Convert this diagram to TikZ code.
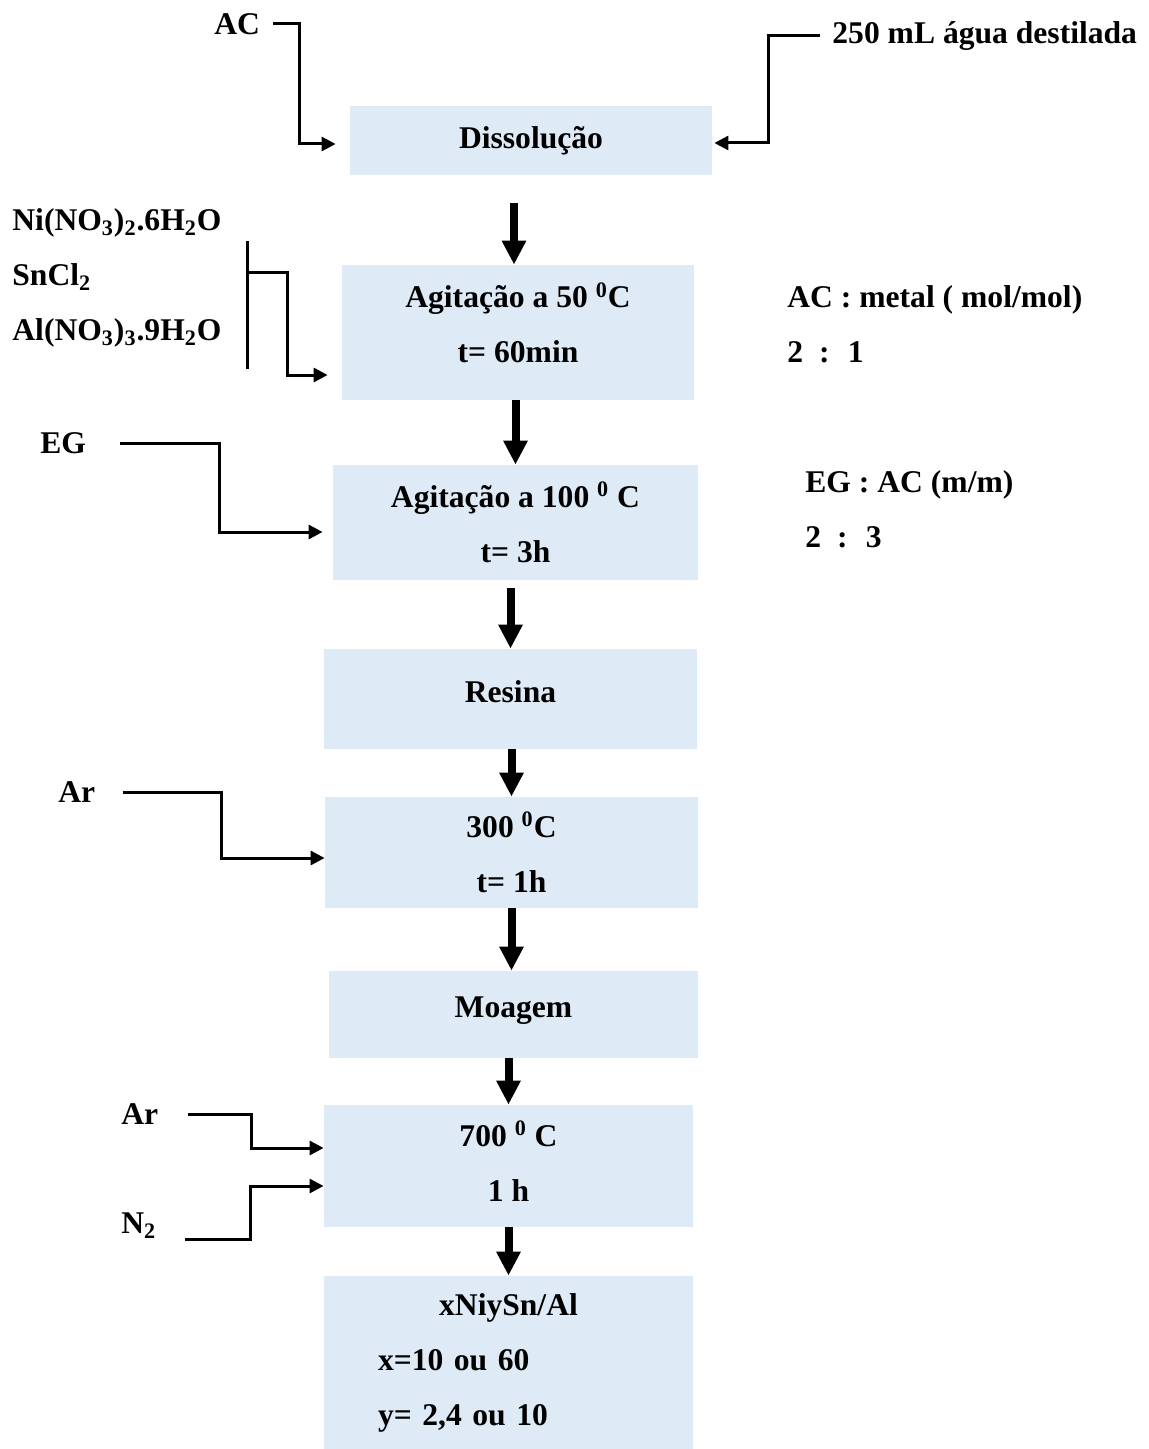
\documentclass[tikz,border=0pt]{standalone}
\usepackage{fontspec}
\setmainfont{Liberation Serif}
\usepackage{tikz}
\usetikzlibrary{arrows.meta, positioning}
\definecolor{boxblue}{RGB}{222,234,246}
\tikzstyle{stage} = [rectangle, fill=boxblue, align=center, inner sep=0pt, font=\fontsize{15.8}{27.5}\selectfont\bfseries]
\tikzstyle{lbl} = [inner sep=0pt, align=left, font=\fontsize{15.8}{27.5}\selectfont\bfseries]
\tikzstyle{line} = [draw, line width=1.5pt]
\tikzstyle{feed} = [draw, line width=1.5pt, -{Triangle[length=7pt, width=7pt]}]
\tikzstyle{flow} = [draw, line width=4pt, -{Triangle[length=12pt, width=11.5pt]}]

\begin{document}
\begin{tikzpicture}[x=0.5pt, y=-0.5pt]
			\useasboundingbox (0,0) rectangle (1149,1449);

			\node [stage, minimum width=181pt, minimum height=34.5pt] (diss) at (531,140.5) {Dissolução};
			\node [stage, minimum width=176pt, minimum height=67.5pt, text depth=10pt] (ag50) at (518,332.5) {Agitação a 50 \textsuperscript{0}C\\t= 60min};
			\node [stage, minimum width=182.5pt, minimum height=57.5pt] (ag100) at (515.5,522.5) {Agitação a 100 \textsuperscript{0} C\\t= 3h};
			\node [stage, minimum width=186.5pt, minimum height=50pt, text depth=7pt] (resina) at (510.5,699) {Resina};
			\node [stage, minimum width=186.5pt, minimum height=55.5pt] (calc300) at (511.5,852.5) {300 \textsuperscript{0}C\\t= 1h};
			\node [stage, minimum width=184.5pt, minimum height=43.5pt, text depth=7.5pt] (moagem) at (513.5,1014.5) {Moagem};
			\node [stage, minimum width=184.5pt, minimum height=61pt, text depth=5pt] (calc700) at (508.5,1166) {700 \textsuperscript{0} C\\1 h};
			\node [stage, minimum width=184.5pt, minimum height=86.5pt, text width=130.5pt, align=left] (cat) at (508.5,1362.5) {\makebox[\linewidth]{xNiySn/Al}\\x=10 ou 60\\y= 2,4 ou 10};

			\node [lbl, anchor=west] (ac) at (214,24) {AC};
			\node [lbl, anchor=west] (agua) at (832,36) {250 mL água destilada};
			\node [lbl, anchor=west] (sais) at (12,278) {Ni(NO\textsubscript{3})\textsubscript{2}.6H\textsubscript{2}O\\SnCl\textsubscript{2}\\Al(NO\textsubscript{3})\textsubscript{3}.9H\textsubscript{2}O};
			\node [lbl, anchor=west] (eg) at (40,443) {EG};
			\node [lbl, anchor=west] (ar1) at (58,792) {Ar};
			\node [lbl, anchor=west] (ar2) at (121,1114) {Ar};
			\node [lbl, anchor=west] (n2) at (121,1226) {N\textsubscript{2}};
			\node [lbl, anchor=west] (razao1) at (787,324) {AC : metal ( mol/mol)\\2 \ : \ 1};
			\node [lbl, anchor=west] (razao2) at (805,509.5) {EG : AC (m/m)\\2 \ : \ 3};

			\coordinate (brtop) at (247,241);
			\coordinate (brbot) at (247,369);
			\coordinate (brk) at (247,273);

			\path [flow, shorten <=14pt] ([xshift=-2pt]diss.south -| ag50.north) -- ([xshift=-2pt]ag50.north);
			\path [flow] (ag50.south -| ag100.north) -- (ag100.north);
			\path [flow, shorten <=4pt] (ag100.south -| resina.north) -- (resina.north);
			\path [flow] (resina.south -| calc300.north) -- (calc300.north);
			\path [flow] ([xshift=-1pt]calc300.south -| moagem.north) -- ([xshift=-1pt]moagem.north);
			\path [flow] (moagem.south -| calc700.north) -- (calc700.north);
			\path [flow] (calc700.south -| cat.north) -- (cat.north);

			\path [feed, shorten <=6.5pt, shorten >=7pt] (ac.east) -| ([xshift=-25pt, yshift=-1.75pt]diss.west) -- ([yshift=-1.75pt]diss.west);
			\path [feed, shorten <=6pt, shorten >=1pt] (agua.west) -| ([xshift=28pt, yshift=-1.25pt]diss.east) -- ([yshift=-1.25pt]diss.east);
			\path [line] (brtop) -- (brbot);
			\path [feed, shorten >=7pt] (brk) -| ([xshift=-27pt, yshift=-21.25pt]ag50.west) -- ([yshift=-21.25pt]ag50.west);
			\path [feed, shorten <=17pt, shorten >=5pt] (eg.east) -| ([xshift=-56.5pt, yshift=-4.75pt]ag100.west) -- ([yshift=-4.75pt]ag100.west);
			\path [feed, shorten <=13.5pt] (ar1.east) -| ([xshift=-51.5pt, yshift=-2.75pt]calc300.west) -- ([yshift=-2.75pt]calc300.west);
			\path [feed, shorten <=14.5pt] (ar2.east) -| ([xshift=-36pt, yshift=9pt]calc700.west) -- ([yshift=9pt]calc700.west);
			\path [feed, shorten <=14pt] ([yshift=-6.5pt]n2.east) -| ([xshift=-36.5pt, yshift=-10pt]calc700.west) -- ([yshift=-10pt]calc700.west);
		\end{tikzpicture}
\end{document}
